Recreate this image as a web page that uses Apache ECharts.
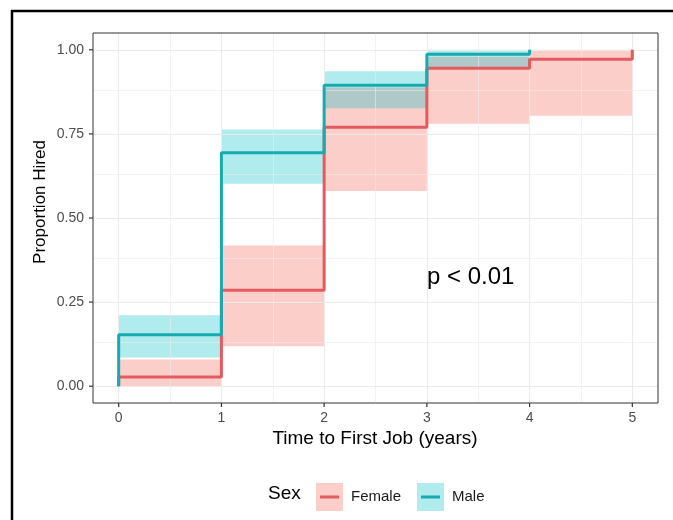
<!DOCTYPE html>
<html>
<head>
<meta charset="utf-8">
<script src="https://cdn.jsdelivr.net/npm/echarts@6/dist/echarts.min.js"></script>
<style>
html,body{margin:0;padding:0;background:#fff;}
#chart{width:673px;height:520px;}
</style>
</head>
<body>
<div id="chart"></div>
<script>
// ---- data ----
var maleTimes   = [0, 0, 1, 2, 3, 4];
var maleValues  = [0, 0.153, 0.694, 0.895, 0.987, 1.0];
var maleBandStart = [0, 1, 2, 3];
var maleBandEnd   = [1, 2, 3, 4];
var maleLower     = [0.085, 0.602, 0.826, 0.943];
var maleUpper     = [0.211, 0.763, 0.936, 1.0];

var femaleTimes  = [0, 0, 1, 2, 3, 4, 5];
var femaleValues = [0, 0.027, 0.285, 0.770, 0.945, 0.972, 1.0];
var femaleBandStart = [0, 1, 2, 3, 4];
var femaleBandEnd   = [1, 2, 3, 4, 5];
var femaleLower     = [0.0, 0.119, 0.580, 0.780, 0.804];
var femaleUpper     = [0.079, 0.418, 0.888, 0.979, 1.0];

var xTicks = [0, 1, 2, 3, 4, 5];
var xMinorGrid = [0.5, 1.5, 2.5, 3.5, 4.5];
var yTicks = [0, 0.25, 0.5, 0.75, 1.0];
var yMinorGrid = [0.125, 0.375, 0.625, 0.875];
var groups = ['Female', 'Male'];
var pText = 'p < 0.01';

// ---- styles ----
var red = '#E35B60', cyan = '#17AAAF';
var redFill = 'rgba(248,118,109,0.36)', cyanFill = 'rgba(0,191,196,0.31)';
var FONT = '"Liberation Sans", Arial, sans-serif';

function zip(a, b) { return a.map(function (v, i) { return [v, b[i]]; }); }
function bands(s, e, lo, hi) { return s.map(function (v, i) { return [v, e[i], lo[i], hi[i]]; }); }

function bandSeries(name, data, fill, z) {
  return {
    name: name, type: 'custom', z: z, silent: true, clip: true,
    itemStyle: { color: fill },
    encode: { x: [0, 1], y: [2, 3] },
    data: data,
    renderItem: function (params, api) {
      var p1 = api.coord([api.value(0), api.value(3)]);
      var p2 = api.coord([api.value(1), api.value(2)]);
      return { type: 'rect', shape: { x: p1[0], y: p1[1], width: p2[0] - p1[0], height: p2[1] - p1[1] },
               style: { fill: fill } };
    }
  };
}

function icon(fillc, linec) {
  var svg = '<svg xmlns="http://www.w3.org/2000/svg" width="27" height="28"><rect x="0" y="0" width="27" height="28" fill="' + fillc + '"/><line x1="4" y1="14" x2="23" y2="14" stroke="' + linec + '" stroke-width="3"/></svg>';
  return 'image://data:image/svg+xml;charset=utf-8,' + encodeURIComponent(svg);
}

var gridLines = [];
xTicks.forEach(function (v) { gridLines.push({ xAxis: v, lineStyle: { width: 1.1 } }); });
xMinorGrid.forEach(function (v) { gridLines.push({ xAxis: v, lineStyle: { width: 0.6 } }); });
yTicks.forEach(function (v) { gridLines.push({ yAxis: v, lineStyle: { width: 1.1 } }); });
yMinorGrid.forEach(function (v) { gridLines.push({ yAxis: v, lineStyle: { width: 0.6 } }); });

// tick marks drawn as short line segments through the axes' own scales
var tickSeriesX = {
  type: 'custom', name: '_xticks', silent: true, clip: false, z: 12,
  data: xTicks.map(function (v) { return [v]; }),
  encode: { x: 0 },
  renderItem: function (params, api) {
    var p = api.coord([api.value(0), -0.05]);
    return { type: 'line', shape: { x1: p[0], y1: p[1], x2: p[0], y2: p[1] + 4 }, style: { stroke: '#333', lineWidth: 1.2 } };
  }
};
var tickSeriesY = {
  type: 'custom', name: '_yticks', silent: true, clip: false, z: 12,
  data: yTicks.map(function (v) { return [v]; }),
  encode: { y: 0 },
  renderItem: function (params, api) {
    var p = api.coord([-0.25, api.value(0)]);
    return { type: 'line', shape: { x1: p[0] - 4, y1: p[1], x2: p[0], y2: p[1] }, style: { stroke: '#333', lineWidth: 1.2 } };
  }
};
tickSeriesY.encode = { x: 1, y: 0 };
tickSeriesY.data = yTicks.map(function (v) { return [v, -0.25]; });

var chart = echarts.init(document.getElementById('chart'), null, { renderer: 'canvas' });
chart.setOption({
  animation: false,
  backgroundColor: '#fff',
  grid: { left: 93, right: 15, top: 33, bottom: 117, show: true, borderColor: '#333', borderWidth: 1, backgroundColor: 'transparent', z: 10 },
  xAxis: {
    type: 'value', min: -0.25, max: 5.25,
    axisLine: { show: false },
    axisTick: { show: false },
    axisLabel: { customValues: xTicks, color: '#4D4D4D', fontSize: 14, fontFamily: FONT, margin: 8 },
    splitLine: { show: false }
  },
  yAxis: {
    type: 'value', min: -0.05, max: 1.05,
    axisLine: { show: false },
    axisTick: { show: false },
    axisLabel: { customValues: yTicks, color: '#4D4D4D', fontSize: 14, fontFamily: FONT, margin: 9,
                 formatter: function (v) { return v.toFixed(2); } },
    splitLine: { show: false }
  },
  legend: [
    { data: [{ name: groups[0], icon: icon('rgba(248,118,109,0.36)', red) }], left: 311, top: 478, itemWidth: 27, itemHeight: 28,
      selectedMode: false, textStyle: { fontFamily: FONT, fontSize: 15, color: '#1a1a1a', padding: [0, 0, 0, 3] } },
    { data: [{ name: groups[1], icon: icon('rgba(0,191,196,0.31)', cyan) }], left: 412, top: 478, itemWidth: 27, itemHeight: 28,
      selectedMode: false, textStyle: { fontFamily: FONT, fontSize: 15, color: '#1a1a1a', padding: [0, 0, 0, 3] } }
  ],
  graphic: [
    { type: 'line', shape: { x1: 11, y1: 11, x2: 673, y2: 11 }, style: { stroke: '#000', lineWidth: 2.5 } },
    { type: 'line', shape: { x1: 12, y1: 10, x2: 12, y2: 520 }, style: { stroke: '#000', lineWidth: 2.5 } },
    { type: 'text', x: 375, y: 439, style: { text: 'Time to First Job (years)', font: '19px ' + FONT, fill: '#000', align: 'center', verticalAlign: 'middle' } },
    { type: 'text', x: 40, y: 202, rotation: Math.PI / 2, style: { text: 'Proportion Hired', font: '17px ' + FONT, fill: '#000', align: 'center', verticalAlign: 'middle' } },
    { type: 'text', x: 268, y: 494, style: { text: 'Sex', font: '19px ' + FONT, fill: '#000', align: 'left', verticalAlign: 'middle' } },
    { type: 'text', x: 427, y: 277, z: 50, style: { text: pText, font: '24px ' + FONT, fill: '#000', align: 'left', verticalAlign: 'middle' } }
  ],
  series: [
    { type: 'line', name: '_grid', data: [], z: 0, silent: true,
      markLine: { silent: true, symbol: 'none', label: { show: false }, lineStyle: { color: '#EBEBEB', type: 'solid' }, data: gridLines, animation: false } },
    bandSeries(groups[0], bands(femaleBandStart, femaleBandEnd, femaleLower, femaleUpper), redFill, 2),
    bandSeries(groups[1], bands(maleBandStart, maleBandEnd, maleLower, maleUpper), cyanFill, 3),
    { type: 'line', name: groups[0], step: 'end', data: zip(femaleTimes, femaleValues), showSymbol: false, z: 5,
      lineStyle: { color: red, width: 3 }, itemStyle: { color: red }, silent: true },
    { type: 'line', name: groups[1], step: 'end', data: zip(maleTimes, maleValues), showSymbol: false, z: 6,
      lineStyle: { color: cyan, width: 3 }, itemStyle: { color: cyan }, silent: true },
    tickSeriesX,
    tickSeriesY
  ]
});
</script>
</body>
</html>
